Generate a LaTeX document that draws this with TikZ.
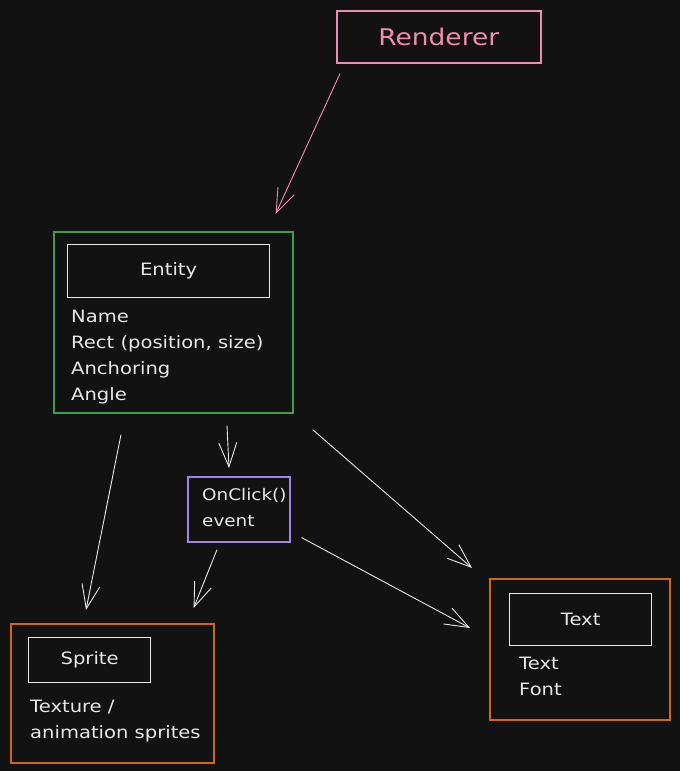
\documentclass[tikz,border=0pt]{standalone}
\usepackage{fontspec}
\setmainfont[FakeStretch=1.15]{DejaVu Sans}
\usetikzlibrary{arrows.meta}
\definecolor{bgdark}{HTML}{121212}
\definecolor{rendpink}{HTML}{F08CB4}
\definecolor{entgreen}{HTML}{3C9E4C}
\definecolor{clickpurple}{HTML}{A084E8}
\definecolor{comporange}{HTML}{D0680C}
\definecolor{inkwhite}{HTML}{E8E8E8}

\begin{document}
\begin{tikzpicture}[x=1pt,y=-1pt,
    >={Straight Barb[length=24pt,width=18pt]},
    outer/.style={draw,line width=1.6pt,anchor=north west,inner sep=0pt},
    titlebox/.style={draw=inkwhite,line width=1.3pt,anchor=north west,inner sep=0pt,
        text=inkwhite,font=\fontsize{17}{26}\selectfont},
    fields/.style={anchor=north west,align=left,inner sep=0pt,
        text=inkwhite,font=\fontsize{17}{26}\selectfont},
    link/.style={->,inkwhite,line width=0.9pt}]
    \fill[bgdark] (0,0) rectangle (680,771);

    % boxes
    \node[outer,draw=rendpink,minimum width=204pt,minimum height=52pt,
        text=rendpink,font=\fontsize{23}{26}\selectfont] (renderer) at (336,10) {Renderer};
    \node[outer,draw=entgreen,minimum width=239pt,minimum height=181pt] (entity) at (53,231) {};
    \node[titlebox,minimum width=202pt,minimum height=53pt] (entitytitle) at (67,244) {Entity};
    \node[fields] (entityfields) at (71,310) {Name\\Rect (position, size)\\Anchoring\\Angle};

    \node[outer,draw=clickpurple,minimum width=102pt,minimum height=65pt] (onclick) at (187,476) {};
    \node[fields,font=\fontsize{16}{26}\selectfont] (onclickfields) at (202,488) {OnClick()\\event};

    \node[outer,draw=comporange,minimum width=203pt,minimum height=139pt] (sprite) at (10,623) {};
    \node[titlebox,minimum width=122pt,minimum height=45pt] (spritetitle) at (28,637) {Sprite};
    \node[fields] (spritefields) at (30,700) {Texture /\\animation sprites};

    \node[outer,draw=comporange,minimum width=180pt,minimum height=141pt] (textbox) at (489,578) {};
    \node[titlebox,minimum width=142pt,minimum height=52pt] (texttitle) at (509,593) {Text};
    \node[fields] (textfields) at (519,657) {Text\\Font};

    % arrows
    \draw[->,rendpink,line width=0.9pt] ([xshift=4pt,yshift=-10pt]renderer.south west)
        -- ([xshift=-18pt,yshift=17pt]entity.north east);
    \draw[link] ([xshift=68pt,yshift=-21pt]entity.south west) -- ([xshift=76pt,yshift=13pt]sprite.north west);
    \draw[link] ([xshift=174pt,yshift=-12pt]entity.south west) -- ([xshift=42pt,yshift=8pt]onclick.north west);
    \draw[link] ([xshift=19pt,yshift=-16pt]entity.south east) -- ([xshift=-17pt,yshift=10pt]textbox.north west);
    \draw[link] ([xshift=30pt,yshift=-7pt]onclick.south west) -- ([xshift=-21pt,yshift=15pt]sprite.north east);
    \draw[link] ([xshift=11pt,yshift=5pt]onclick.south east) -- ([xshift=-19pt,yshift=-50pt]textbox.north west);
\end{tikzpicture}
\end{document}
